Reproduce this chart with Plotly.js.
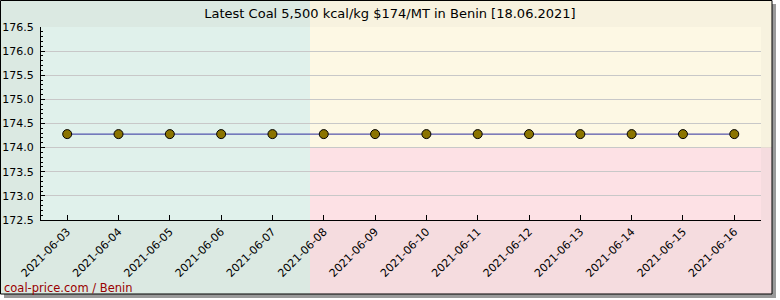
<!DOCTYPE html>
<html>
<head>
<meta charset="utf-8">
<script src="https://cdn.plot.ly/plotly-3.0.1.min.js"></script>
<style>html,body{margin:0;padding:0;background:#fff;}#chart{width:780px;height:300px;}</style>
</head>
<body>
<div id="chart"></div>
<script>
const dates = ["2021-06-03","2021-06-04","2021-06-05","2021-06-06","2021-06-07","2021-06-08","2021-06-09","2021-06-10","2021-06-11","2021-06-12","2021-06-13","2021-06-14","2021-06-15","2021-06-16"];
const prices = [174.28,174.28,174.28,174.28,174.28,174.28,174.28,174.28,174.28,174.28,174.28,174.28,174.28,174.28];
const tickLabels = dates.slice();
const titleText = "Latest Coal 5,500 kcal/kg $174/MT in Benin [18.06.2021]";
const watermark = "coal-price.com / Benin";
const threshold = 174.0;

const W = 780, H = 300;
const L = 41, R = 19, T = 27, B = 80;
const pw = W - L - R, ph = H - T - B;
const yMin = 172.5, yMax = 176.5;
const px = p => (p - L) / pw;
const py = p => (H - B - p) / ph;
const yv = v => (v - yMin) / (yMax - yMin);

const splitX = px(310);
const thr = yv(threshold);
const fx0 = px(0.5), fx1 = px(772), fy0 = py(0.5), fy1 = py(294);
const sx0 = px(4), sx1 = px(776), sy0 = py(4), sy1 = py(298);

function rect(x0, x1, y0, y1, fill, line) {
  return {type: 'rect', xref: 'paper', yref: 'paper', x0, x1, y0, y1, layer: 'below',
    fillcolor: fill, line: line || {width: 0}};
}
const shapes = [
  rect(sx0, sx1, sy0, sy1, '#9a9a9a'),
  rect(fx0, splitX, fy0, fy1, '#dbe9e2'),
  rect(splitX, fx1, fy0, thr, '#f7f2df'),
  rect(splitX, fx1, thr, fy1, '#f5dcdf'),
  rect(0, splitX, 0, 1, '#e0f1eb'),
  rect(splitX, 1, thr, 1, '#fdf8e4'),
  rect(splitX, 1, 0, thr, '#fde1e5'),
  rect(fx0, fx1, fy0, fy1, 'rgba(0,0,0,0)', {color: '#000', width: 1})
];

const trace = {
  x: dates, y: prices, type: 'scatter', mode: 'lines+markers',
  line: {color: '#2e2e9e', width: 1},
  marker: {symbol: 'circle', size: 9, color: '#8b7400', line: {color: '#000', width: 1}},
  hoverinfo: 'x+y'
};

const layout = {
  width: W, height: H,
  margin: {l: L, r: R, t: T, b: B, pad: 0},
  paper_bgcolor: '#ffffff', plot_bgcolor: 'rgba(0,0,0,0)',
  font: {family: 'DejaVu Sans', size: 11, color: '#000'},
  title: {text: titleText, font: {family: 'DejaVu Sans', size: 13, color: '#000'},
    x: 0.5, xanchor: 'center', y: 1 - 13 / H, yanchor: 'middle'},
  showlegend: false,
  xaxis: {
    type: 'date',
    range: ['2021-06-02 11:45', '2021-06-16 12:30'],
    tickvals: dates, ticktext: tickLabels, tickangle: -45,
    ticks: 'inside', ticklen: 5, tickcolor: '#000', tickwidth: 1,
    showline: true, linecolor: '#000', linewidth: 1,
    showgrid: false, zeroline: false,
    tickfont: {family: 'DejaVu Sans', size: 11, color: '#000'}
  },
  yaxis: {
    range: [yMin, yMax], dtick: 0.5, tick0: 172.5, tickformat: '.1f',
    ticks: 'inside', ticklen: 4, tickcolor: '#000', tickwidth: 1,
    ticklabelstandoff: 4,
    minor: {dtick: 0.1, ticks: 'inside', ticklen: 2, tickcolor: '#000', showgrid: false},
    showline: true, linecolor: '#000', linewidth: 1,
    showgrid: true, gridcolor: '#c8c8c8', gridwidth: 1, zeroline: false,
    tickfont: {family: 'DejaVu Sans', size: 11, color: '#000'}
  },
  shapes: shapes,
  annotations: [{
    text: watermark, xref: 'paper', yref: 'paper', x: px(2), y: py(288),
    xanchor: 'left', yanchor: 'middle', showarrow: false,
    font: {family: 'DejaVu Sans', size: 11.5, color: '#990000'}
  }]
};

Plotly.newPlot('chart', [trace], layout, {displayModeBar: false, staticPlot: true});
</script>
</body>
</html>
